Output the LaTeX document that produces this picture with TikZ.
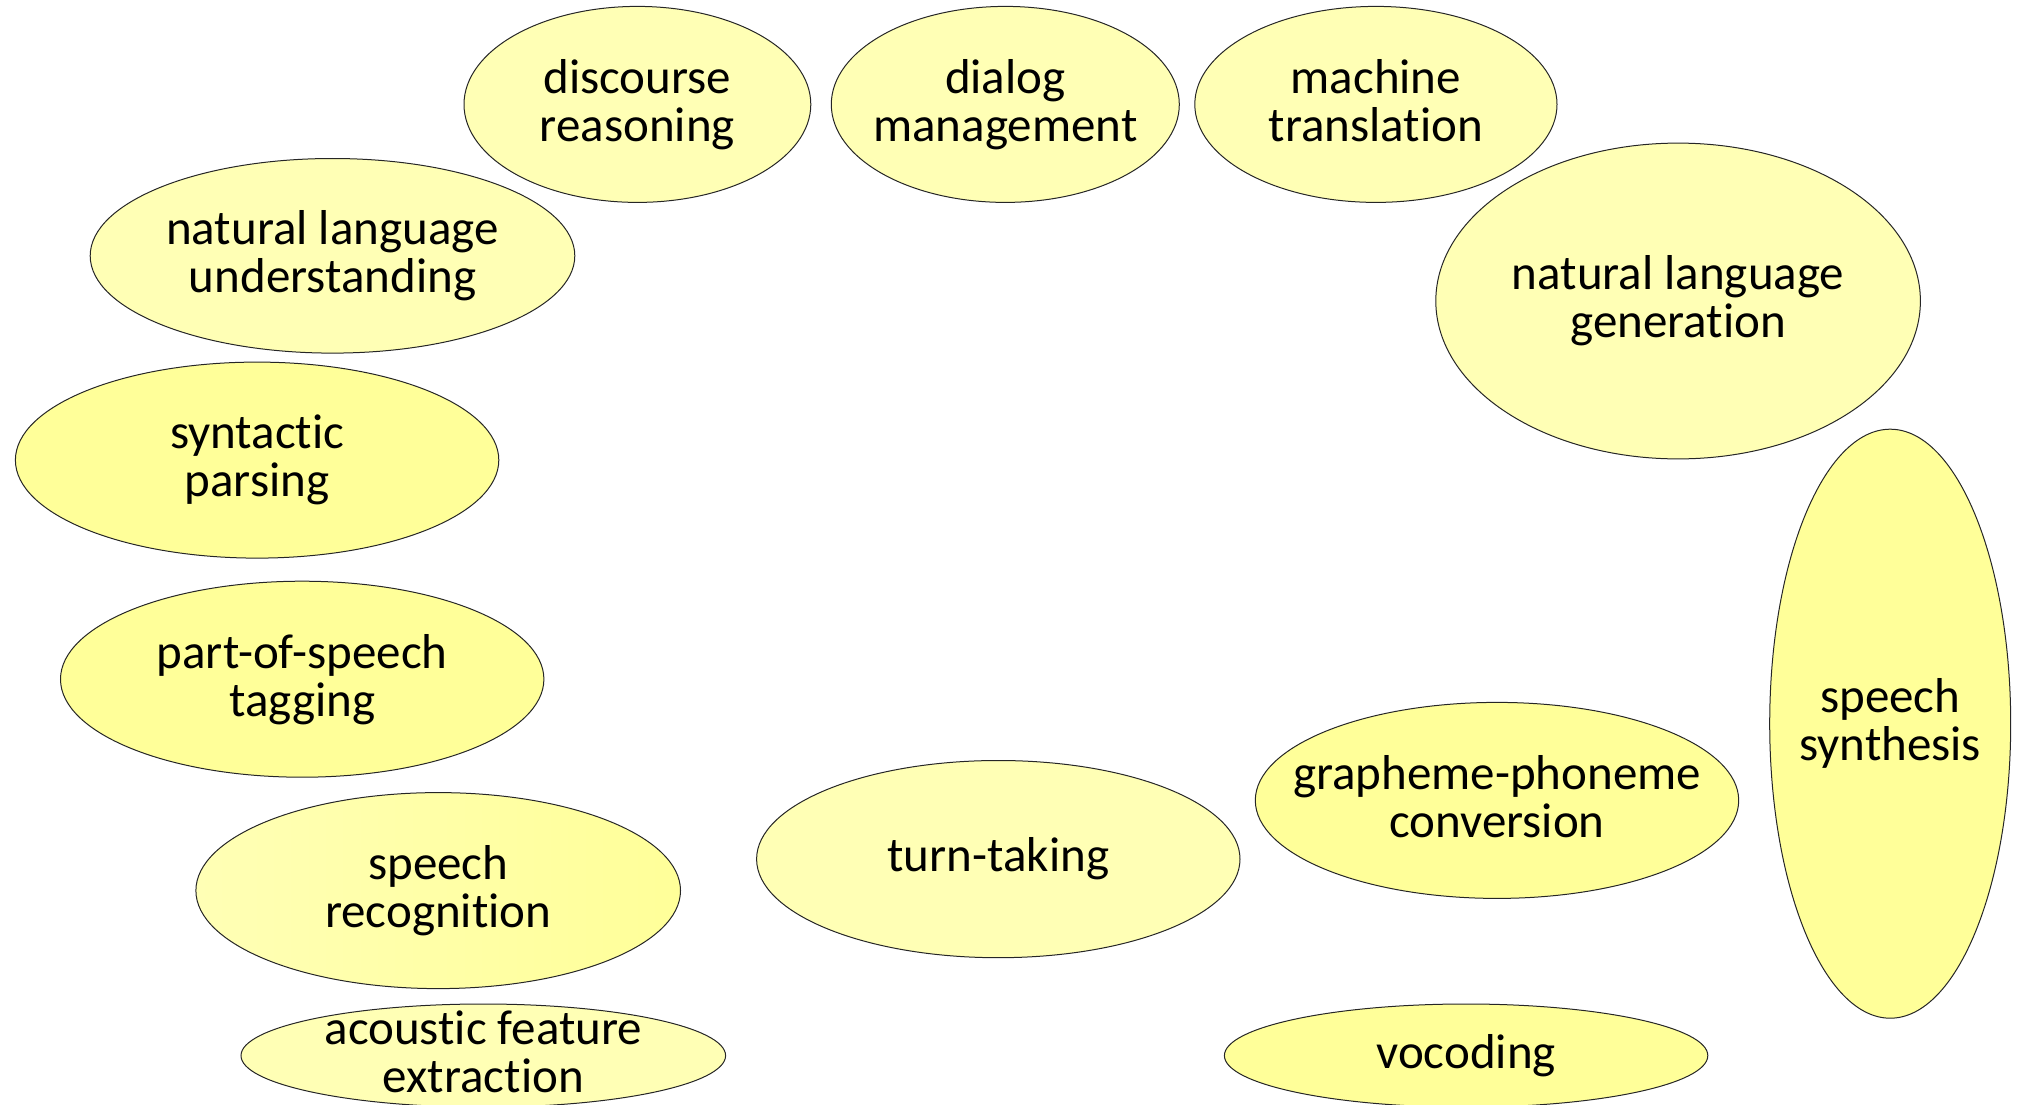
\documentclass[tikz,border=0pt]{standalone}
\usepackage{fontspec}
\setmainfont{Carlito}[Ligatures=NoCommon, RawFeature={-liga}]
\usetikzlibrary{shapes.geometric}
\definecolor{yelA}{HTML}{FFFF99}
\definecolor{yelB}{HTML}{FFFFB5}
\tikzset{
  blob/.style={ellipse, draw=black!85, line width=1pt, inner sep=0pt},
  lbl/.style={align=center, inner sep=0pt, font=\fontsize{49}{48}\selectfont},
}
\begin{document}
\begin{tikzpicture}[x=1pt,y=-1pt]
\useasboundingbox (0,0) rectangle (2021,1105);
% top row
\node[blob, fill=yelB, minimum width=346.8pt, minimum height=196pt] (dr) at (637.4,104.4) {};
\node[lbl] (drt) at (dr.center) {discourse\\reasoning};
\node[blob, fill=yelB, minimum width=348pt, minimum height=196pt] (dm) at (1005.3,104.4) {};
\node[lbl] (dmt) at (dm.center) {dialog\\management};
\node[blob, fill=yelB, minimum width=362.2pt, minimum height=196pt] (mt) at (1375.9,104.4) {};
\node[lbl] (mtt) at (mt.center) {machine\\translation\vphantom{g}};
% left column
\node[blob, fill=yelB, minimum width=484.6pt, minimum height=194.6pt] (nlu) at (332.5,255.8) {};
\node[lbl] (nlut) at (nlu.center) {natural language\\understanding};
\node[blob, fill=yelA, minimum width=483.4pt, minimum height=196pt] (sp) at (257.1,460.1) {};
\node[lbl] (spt) at (sp.center) {syntactic\\parsing};
\node[blob, fill=yelA, minimum width=483.4pt, minimum height=196pt] (pos) at (302.2,679.2) {};
\node[lbl] (post) at (pos.center) {part-of-speech\\tagging};
\node[blob, left color=yelB, right color=yelA, minimum width=484.6pt, minimum height=196pt] (sr) at (438.2,890.6) {};
\node[lbl] (srt) at (sr.center) {speech\\recognition};
\node[blob, fill=yelB, minimum width=484.6pt, minimum height=103.2pt] (afe) at (483.3,1055.6) {};
\node[lbl] (afet) at (afe.center) {acoustic feature\\extraction\vphantom{g}};
% right side
\node[blob, fill=yelB, minimum width=484.6pt, minimum height=315.8pt] (nlg) at (1678.1,301.0) {};
\node[lbl] (nlgt) at (nlg.center) {natural language\\generation};
\node[blob, fill=yelA, minimum width=241pt, minimum height=589pt] (ss) at (1890.2,723.7) {};
\node[lbl] (sst) at (ss.center) {speech\\synthesis};
\node[blob, fill=yelA, minimum width=483.4pt, minimum height=196pt] (gp) at (1497.0,800.4) {};
\node[lbl] (gpt) at (gp.center) {grapheme-phoneme\\conversion\vphantom{g}};
\node[blob, fill=yelB, minimum width=483.4pt, minimum height=197.2pt] (tt) at (998.3,859.1) {};
\node[lbl] (ttt) at (tt.center) {turn-taking};
\node[blob, fill=yelA, minimum width=483.4pt, minimum height=103.2pt] (voc) at (1466.1,1055.6) {};
\node[lbl] (voct) at (voc.center) {vocoding};
\end{tikzpicture}
\end{document}
